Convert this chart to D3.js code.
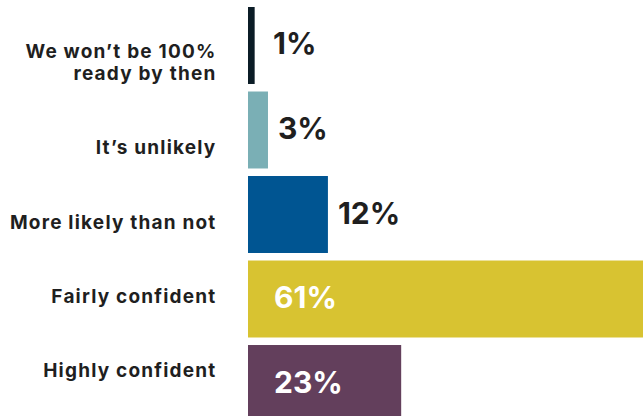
<!DOCTYPE html>
<html>
<head>
<meta charset="utf-8">
<script src="https://cdn.jsdelivr.net/npm/d3@7"></script>
<style>
  html, body { margin: 0; padding: 0; background: #fff; }
  svg { display: block; }
  text { font-family: Inter, "Noto Sans", sans-serif; font-weight: 700; }
</style>
</head>
<body>
<div id="chart"></div>
<script>
// Survey responses: confidence of being ready by the deadline
const categories = [
  ["We won\u2019t be 100%", "ready by then"],
  ["It\u2019s unlikely"],
  ["More likely than not"],
  ["Fairly confident"],
  ["Highly confident"]
];
const values = [1, 3, 12, 61, 23];
const colors = ["#0b1c26", "#7aafb5", "#005592", "#d8c331", "#633f5c"];

const width = 643, height = 416;
const keys = categories.map((c, i) => i);

const svg = d3.select("#chart").append("svg")
  .attr("width", width)
  .attr("height", height);

const x = d3.scaleLinear().domain([0, 100]).range([248, 914]);

const yBar = d3.scaleBand()
  .domain(keys)
  .range([7, 422])
  .paddingInner(0.089)
  .paddingOuter(0);

// category labels sit on their own evenly spaced baselines
const yLabel = d3.scalePoint().domain(keys).range([80, 377]);

svg.append("g").selectAll("rect")
  .data(keys)
  .join("rect")
  .attr("x", x(0))
  .attr("y", i => yBar(i))
  .attr("width", i => x(values[i]) - x(0))
  .attr("height", yBar.bandwidth())
  .attr("fill", i => colors[i]);

// value labels: white inside the wide bars, dark just past the short ones
const inside = v => v >= 20;
svg.append("g").selectAll("text")
  .data(keys)
  .join("text")
  .attr("x", i => inside(values[i]) ? x(0) + 26 : Math.max(x(values[i]) + 10, x(0) + 25))
  .attr("y", i => yBar(i) + yBar.bandwidth() / 2 + 9)
  .attr("font-size", 30)
  .attr("fill", i => inside(values[i]) ? "#ffffff" : "#1f1f1f")
  .text(i => values[i] + "%");

// category labels, right aligned
const labelX = 216.5;
const labels = svg.append("g").selectAll("text")
  .data(keys)
  .join("text")
  .attr("text-anchor", "end")
  .attr("x", labelX)
  .attr("y", i => yLabel(i))
  .attr("font-size", 19)
  .attr("letter-spacing", 1.2)
  .attr("fill", "#1f1f1f");

labels.each(function (i) {
  const lines = categories[i];
  const t = d3.select(this);
  lines.forEach((line, j) => {
    t.append("tspan")
      .attr("x", labelX)
      .attr("dy", j === 0 ? -(lines.length - 1) * 21.7 : 21.7)
      .text(line);
  });
});
</script>
</body>
</html>
